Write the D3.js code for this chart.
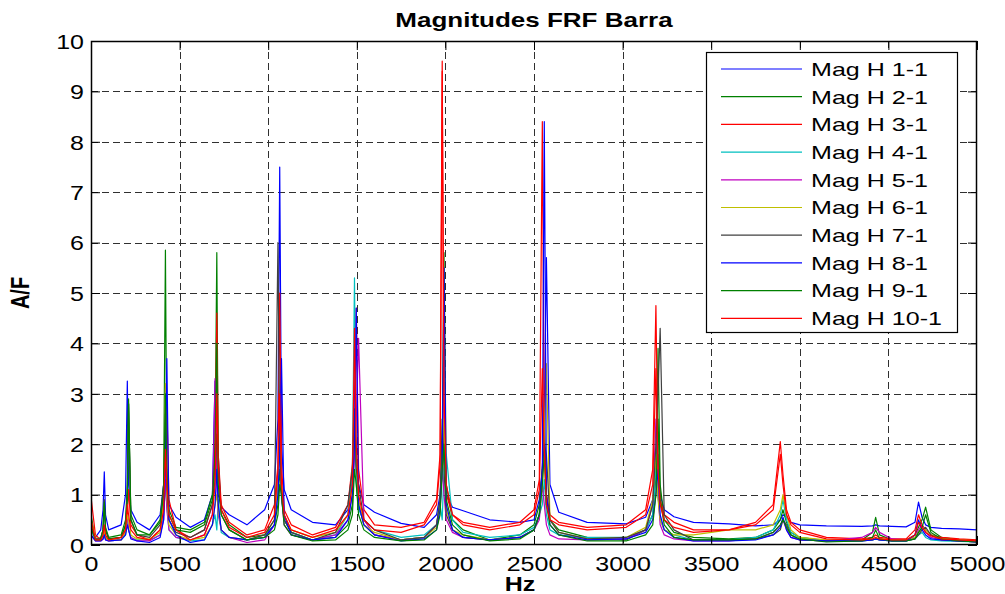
<!DOCTYPE html>
<html>
<head>
<meta charset="utf-8">
<script src="https://cdn.jsdelivr.net/npm/d3@7"></script>
<style>
  body { margin: 0; background: #fff; }
  text { font-family: "Liberation Sans", Arial, sans-serif; }
</style>
</head>
<body>
<svg id="chart" width="1005" height="594"></svg>
<script>
// frequency grid (Hz), shared by every FRF
var hz = [0, 25,
  55, 68, 75, 82, 100,
  170, 195, 205, 212, 225, 260,
  330, 390, 410, 420, 428, 440, 480,
  560, 640, 685, 700, 710, 718, 735, 780,
  880, 980, 1035, 1055, 1065, 1075, 1090, 1130,
  1250, 1380, 1450, 1475, 1487, 1497, 1510, 1540, 1600,
  1750, 1880, 1950, 1970, 1982, 1992, 2005, 2040, 2100,
  2250, 2420, 2500, 2530, 2547, 2558, 2570, 2590, 2640,
  2800, 3020, 3130, 3170, 3188, 3200, 3212, 3235, 3290,
  3400, 3600, 3750, 3850, 3890, 3905, 3925, 3950, 4000,
  4150, 4350, 4410, 4428, 4450, 4520,
  4600, 4650, 4670, 4690, 4710, 4740, 4800, 4900, 5000]

// magnitudes A/F, one array per FRF
var h1 = [0.3, 0.15,
  0.3, 0.7, 1.45, 0.6, 0.3,
  0.4, 1.0, 3.25, 1.2, 0.7, 0.45,
  0.3, 0.6, 1.2, 2.0, 1.4, 0.8, 0.55,
  0.35, 0.5, 1.0, 3.25, 1.6, 1.0, 0.75, 0.6,
  0.4, 0.7, 1.2, 2.5, 7.5, 2.0, 1.1, 0.7,
  0.45, 0.4, 0.7, 1.3, 2.0, 1.6, 1.2, 0.8, 0.65,
  0.43, 0.35, 0.6, 1.0, 1.6, 2.3, 1.0, 0.75, 0.68,
  0.5, 0.45, 0.5, 0.9, 1.5, 2.5, 5.7, 1.2, 0.65,
  0.45, 0.42, 0.55, 0.9, 1.3, 1.8, 1.0, 0.7, 0.56,
  0.45, 0.42, 0.38, 0.4, 0.5, 0.6, 0.55, 0.45, 0.4,
  0.38, 0.37, 0.38, 0.4, 0.38, 0.37,
  0.36, 0.45, 0.85, 0.55, 0.4, 0.35, 0.33, 0.32, 0.3]
var h2 = [0.6, 0.1,
  0.15, 0.3, 0.8, 0.35, 0.15,
  0.2, 0.5, 1.2, 2.9, 0.6, 0.3,
  0.2, 0.5, 1.2, 5.85, 1.5, 0.7, 0.35,
  0.3, 0.45, 1.0, 2.0, 5.8, 1.5, 0.7, 0.4,
  0.15, 0.2, 0.4, 0.8, 1.5, 1.0, 0.5, 0.25,
  0.1, 0.15, 0.4, 0.8, 2.0, 1.5, 0.8, 0.4, 0.2,
  0.1, 0.15, 0.4, 0.9, 2.0, 5.8, 1.2, 0.5, 0.3,
  0.1, 0.2, 0.4, 0.8, 1.5, 2.5, 1.0, 0.5, 0.3,
  0.15, 0.1, 0.3, 0.6, 1.5, 3.9, 1.2, 0.5, 0.25,
  0.15, 0.12, 0.15, 0.3, 0.5, 0.7, 0.45, 0.25, 0.15,
  0.08, 0.1, 0.25, 0.55, 0.2, 0.1,
  0.1, 0.2, 0.35, 0.5, 0.75, 0.3, 0.15, 0.1, 0.08]
var h3 = [0.95, 0.2,
  0.1, 0.15, 0.3, 0.15, 0.1,
  0.15, 0.3, 0.6, 1.1, 0.4, 0.2,
  0.1, 0.3, 0.8, 1.5, 2.8, 0.9, 0.3,
  0.15, 0.3, 0.8, 1.6, 4.6, 1.8, 0.8, 0.45,
  0.2, 0.3, 0.8, 1.6, 5.0, 1.6, 0.7, 0.4,
  0.2, 0.35, 0.8, 1.6, 3.0, 4.7, 1.5, 0.7, 0.4,
  0.35, 0.45, 0.9, 1.8, 9.6, 2.2, 1.0, 0.6, 0.45,
  0.35, 0.45, 0.7, 1.3, 8.4, 2.0, 1.0, 0.6, 0.45,
  0.35, 0.4, 0.7, 1.5, 4.75, 1.6, 0.9, 0.6, 0.45,
  0.3, 0.3, 0.45, 0.8, 2.05, 1.4, 0.7, 0.45, 0.3,
  0.15, 0.12, 0.15, 0.2, 0.15, 0.12,
  0.12, 0.3, 0.6, 0.4, 0.3, 0.2, 0.15, 0.12, 0.1]
var h4 = [0.3, 0.1,
  0.1, 0.15, 0.25, 0.12, 0.08,
  0.1, 0.2, 0.5, 0.3, 0.15, 0.1,
  0.1, 0.2, 0.6, 1.2, 0.8, 0.3, 0.15,
  0.08, 0.1, 0.4, 0.6, 0.3, 0.9, 0.25, 0.15,
  0.1, 0.15, 0.4, 1.2, 2.0, 0.9, 0.5, 0.25,
  0.1, 0.2, 0.6, 1.5, 5.3, 1.2, 0.7, 0.5, 0.3,
  0.15, 0.2, 0.4, 0.8, 0.5, 1.5, 1.8, 0.5, 0.25,
  0.15, 0.2, 0.35, 0.6, 0.8, 1.3, 0.6, 0.3, 0.2,
  0.15, 0.15, 0.3, 0.6, 1.5, 1.0, 0.5, 0.3, 0.2,
  0.1, 0.1, 0.15, 0.3, 0.6, 0.9, 0.5, 0.25, 0.15,
  0.08, 0.08, 0.1, 0.12, 0.1, 0.08,
  0.08, 0.12, 0.2, 0.25, 0.15, 0.1, 0.08, 0.07, 0.06]
var h5 = [0.2, 0.08,
  0.08, 0.12, 0.2, 0.1, 0.08,
  0.1, 0.25, 0.6, 0.3, 0.15, 0.08,
  0.08, 0.2, 0.5, 1.3, 0.7, 0.3, 0.15,
  0.1, 0.2, 0.6, 3.3, 1.2, 0.6, 0.3, 0.15,
  0.05, 0.1, 0.4, 1.5, 2.5, 1.0, 0.4, 0.2,
  0.1, 0.2, 0.5, 1.0, 1.8, 2.5, 4.1, 0.5, 0.2,
  0.1, 0.15, 0.4, 0.8, 1.5, 1.0, 0.5, 0.25, 0.15,
  0.1, 0.15, 0.3, 0.5, 1.2, 0.8, 0.4, 0.2, 0.12,
  0.1, 0.12, 0.3, 0.8, 2.5, 1.0, 0.4, 0.2, 0.12,
  0.08, 0.08, 0.12, 0.25, 0.4, 0.5, 0.3, 0.15, 0.1,
  0.08, 0.15, 0.25, 0.35, 0.25, 0.12,
  0.1, 0.15, 0.3, 0.4, 0.25, 0.15, 0.1, 0.08, 0.06]
var h6 = [0.5, 0.15,
  0.1, 0.15, 0.3, 0.15, 0.1,
  0.1, 0.25, 0.6, 0.5, 0.2, 0.12,
  0.12, 0.25, 0.8, 3.2, 1.0, 0.4, 0.2,
  0.1, 0.15, 0.4, 0.8, 1.0, 0.7, 0.3, 0.15,
  0.1, 0.2, 0.5, 1.2, 2.5, 1.2, 0.6, 0.3,
  0.15, 0.25, 0.6, 1.2, 2.5, 1.8, 0.9, 0.4, 0.25,
  0.1, 0.15, 0.35, 0.8, 1.5, 2.5, 0.7, 0.3, 0.2,
  0.1, 0.15, 0.3, 0.6, 1.2, 2.0, 3.6, 0.5, 0.25,
  0.12, 0.15, 0.35, 0.9, 1.8, 0.9, 0.5, 0.3, 0.2,
  0.2, 0.3, 0.3, 0.4, 0.7, 1.0, 0.6, 0.3, 0.15,
  0.1, 0.1, 0.12, 0.15, 0.12, 0.1,
  0.1, 0.15, 0.25, 0.35, 0.3, 0.2, 0.12, 0.1, 0.08]
var h7 = [0.4, 0.12,
  0.12, 0.3, 0.9, 0.3, 0.12,
  0.15, 0.4, 1.0, 2.8, 0.5, 0.2,
  0.15, 0.4, 1.2, 2.6, 1.2, 0.5, 0.25,
  0.15, 0.3, 0.8, 1.3, 2.2, 1.8, 0.6, 0.3,
  0.1, 0.2, 0.5, 6.0, 2.0, 1.0, 0.5, 0.25,
  0.1, 0.25, 0.8, 1.5, 2.7, 1.5, 1.2, 0.5, 0.3,
  0.1, 0.15, 0.4, 0.9, 2.5, 1.5, 0.6, 0.3, 0.15,
  0.1, 0.15, 0.3, 0.6, 1.5, 2.0, 1.8, 0.5, 0.25,
  0.12, 0.15, 0.3, 0.8, 2.0, 3.0, 4.3, 0.6, 0.3,
  0.1, 0.1, 0.12, 0.2, 0.3, 0.5, 0.4, 0.2, 0.1,
  0.08, 0.08, 0.1, 0.12, 0.1, 0.08,
  0.08, 0.12, 0.2, 0.3, 0.35, 0.2, 0.1, 0.08, 0.06]
var h8 = [0.2, 0.08,
  0.08, 0.12, 0.2, 0.1, 0.08,
  0.1, 0.2, 0.4, 0.3, 0.12, 0.08,
  0.05, 0.15, 0.5, 1.5, 3.7, 0.5, 0.2,
  0.05, 0.1, 0.4, 0.8, 1.5, 0.8, 0.3, 0.15,
  0.1, 0.15, 0.4, 1.0, 1.8, 3.7, 0.6, 0.2,
  0.1, 0.15, 0.5, 1.0, 2.0, 4.7, 0.8, 0.4, 0.2,
  0.08, 0.12, 0.3, 0.7, 1.5, 5.5, 0.8, 0.3, 0.15,
  0.1, 0.15, 0.3, 0.6, 1.5, 8.4, 1.0, 0.4, 0.2,
  0.1, 0.12, 0.25, 0.5, 1.0, 1.5, 0.6, 0.3, 0.15,
  0.08, 0.08, 0.1, 0.2, 0.35, 0.55, 0.3, 0.15, 0.1,
  0.08, 0.08, 0.1, 0.12, 0.1, 0.08,
  0.08, 0.2, 0.5, 0.3, 0.2, 0.12, 0.1, 0.08, 0.06]
var h9 = [0.35, 0.1,
  0.1, 0.3, 0.85, 0.3, 0.12,
  0.15, 0.4, 0.9, 2.8, 0.5, 0.2,
  0.2, 0.45, 1.0, 3.0, 1.3, 0.6, 0.3,
  0.25, 0.4, 0.9, 1.8, 4.0, 1.2, 0.6, 0.3,
  0.1, 0.15, 0.3, 0.6, 1.2, 1.0, 0.4, 0.2,
  0.08, 0.1, 0.3, 0.6, 1.5, 1.2, 0.6, 0.3, 0.15,
  0.08, 0.1, 0.3, 0.6, 1.5, 2.0, 0.9, 0.4, 0.2,
  0.08, 0.12, 0.3, 0.6, 1.2, 1.8, 0.8, 0.4, 0.2,
  0.08, 0.08, 0.2, 0.4, 1.0, 2.5, 0.9, 0.4, 0.15,
  0.1, 0.1, 0.12, 0.25, 0.4, 0.5, 0.35, 0.2, 0.12,
  0.06, 0.08, 0.15, 0.3, 0.12, 0.08,
  0.08, 0.12, 0.25, 0.35, 0.6, 0.25, 0.12, 0.08, 0.06]
var h10 = [0.5, 0.1,
  0.1, 0.2, 0.4, 0.2, 0.1,
  0.15, 0.3, 0.8, 0.6, 0.3, 0.15,
  0.1, 0.3, 0.7, 1.9, 1.2, 0.6, 0.3,
  0.1, 0.2, 0.6, 1.2, 3.0, 1.6, 0.7, 0.35,
  0.15, 0.25, 0.6, 1.5, 3.0, 1.2, 0.6, 0.3,
  0.15, 0.3, 0.6, 1.2, 4.3, 2.0, 1.0, 0.5, 0.3,
  0.25, 0.4, 0.8, 1.6, 9.4, 3.0, 1.2, 0.6, 0.4,
  0.3, 0.4, 0.6, 1.1, 3.5, 1.9, 0.8, 0.5, 0.4,
  0.3, 0.35, 0.6, 1.2, 3.5, 1.5, 0.8, 0.5, 0.35,
  0.25, 0.3, 0.4, 0.7, 1.8, 1.2, 0.6, 0.4, 0.25,
  0.12, 0.1, 0.12, 0.15, 0.12, 0.1,
  0.1, 0.2, 0.45, 0.35, 0.25, 0.18, 0.12, 0.1, 0.08]

var seriesNames = ['Mag H 1-1', 'Mag H 2-1', 'Mag H 3-1', 'Mag H 4-1', 'Mag H 5-1',
  'Mag H 6-1', 'Mag H 7-1', 'Mag H 8-1', 'Mag H 9-1', 'Mag H 10-1']
var seriesValues = [h1, h2, h3, h4, h5, h6, h7, h8, h9, h10]
// matlab default line colour order
var seriesColors = ['#0000ff', '#008000', '#ff0000', '#00bfbf', '#bf00bf',
  '#bfbf00', '#404040', '#0000ff', '#008000', '#ff0000']
var xTicks = [0, 500, 1000, 1500, 2000, 2500, 3000, 3500, 4000, 4500, 5000]
var yTicks = [0, 1, 2, 3, 4, 5, 6, 7, 8, 9, 10]

var svg = d3.select('#chart')
// plot box (can't use "top" as a global, window.top is read only)
var pLeft = 91, pRight = 977, pTop = 41, pBottom = 545
var stretch = 'scale(1.25,1)'

var x = d3.scaleLinear().domain([0, 5000]).range([pLeft, pRight])
var y = d3.scaleLinear().domain([0, 10]).range([pBottom, pTop])

// grid
var grid = svg.append('g')
  .attr('stroke', '#303030')
  .attr('stroke-width', 1)
  .attr('stroke-dasharray', '7,4')
grid.selectAll('.gx').data(xTicks.slice(1, -1)).enter().append('line')
  .attr('x1', d => Math.round(x(d)) + 0.5).attr('x2', d => Math.round(x(d)) + 0.5)
  .attr('y1', pTop).attr('y2', pBottom)
grid.selectAll('.gy').data(yTicks.slice(1, -1)).enter().append('line')
  .attr('y1', d => Math.round(y(d)) + 0.5).attr('y2', d => Math.round(y(d)) + 0.5)
  .attr('x1', pLeft).attr('x2', pRight)

// curves
svg.append('clipPath').attr('id', 'plotclip').append('rect')
  .attr('x', pLeft).attr('y', pTop).attr('width', pRight - pLeft).attr('height', pBottom - pTop)
var line = d3.line().x(d => x(d[0])).y(d => y(d[1]))
var curves = svg.append('g').attr('clip-path', 'url(#plotclip)')
seriesValues.forEach(function (vals, i) {
  if (vals.length !== hz.length) console.log('length mismatch', seriesNames[i], vals.length)
  curves.append('path')
    .datum(d3.zip(hz, vals))
    .attr('fill', 'none')
    .attr('stroke', seriesColors[i])
    .attr('stroke-width', 1.2)
    .attr('stroke-linejoin', 'round')
    .attr('d', line)
})

// axes, ticks inward like matlab
var tk = 9
var fmt = d3.format('d')
var xAxis = svg.append('g').attr('transform', 'translate(0,' + pBottom + ')')
  .call(d3.axisBottom(x).tickValues(xTicks).tickFormat(fmt).tickSizeInner(-tk).tickSizeOuter(0))
var yAxis = svg.append('g').attr('transform', 'translate(' + pLeft + ',0)')
  .call(d3.axisLeft(y).tickValues(yTicks).tickFormat(fmt).tickSizeInner(-tk).tickSizeOuter(0))
svg.append('g').attr('transform', 'translate(0,' + pTop + ')')
  .call(d3.axisTop(x).tickValues(xTicks).tickSizeInner(-tk).tickSizeOuter(0).tickFormat(''))
svg.append('g').attr('transform', 'translate(' + pRight + ',0)')
  .call(d3.axisRight(y).tickValues(yTicks).tickSizeInner(-tk).tickSizeOuter(0).tickFormat(''))
svg.selectAll('.domain').remove()
svg.selectAll('.tick line').attr('stroke', '#000')

xAxis.selectAll('text')
  .attr('font-size', 20).attr('fill', '#000')
  .attr('y', 12).attr('dy', '0.71em')
  .attr('transform', stretch)
yAxis.selectAll('text')
  .attr('font-size', 20).attr('fill', '#000')
  .attr('x', -7 / 1.25).attr('dy', '0.36em')
  .attr('transform', stretch)

svg.append('rect')
  .attr('x', pLeft + 0.5).attr('y', pTop + 0.5)
  .attr('width', pRight - pLeft - 1).attr('height', pBottom - pTop - 1)
  .attr('fill', 'none').attr('stroke', '#000').attr('stroke-width', 1.5)

// titles
svg.append('text')
  .attr('transform', 'translate(' + ((pLeft + pRight) / 2) + ',27) scale(1.3,1)')
  .attr('text-anchor', 'middle')
  .attr('font-size', 20).attr('font-weight', 'bold')
  .text('Magnitudes FRF Barra')
svg.append('text')
  .attr('transform', 'translate(520,591) ' + stretch)
  .attr('text-anchor', 'middle')
  .attr('font-size', 20).attr('font-weight', 'bold')
  .text('Hz')
svg.append('text')
  .attr('transform', 'translate(29,' + ((pTop + pBottom) / 2) + ') rotate(-90) scale(1,1.25)')
  .attr('text-anchor', 'middle')
  .attr('font-size', 20).attr('font-weight', 'bold')
  .text('A/F')

// legend
var lg = svg.append('g').attr('transform', 'translate(706,52)')
lg.append('rect')
  .attr('x', 0.5).attr('y', 0.5).attr('width', 251).attr('height', 280)
  .attr('fill', '#fff').attr('stroke', '#000').attr('stroke-width', 1.2)
var rows = lg.selectAll('.row').data(seriesNames).enter().append('g')
  .attr('transform', (d, i) => 'translate(0,' + (17 + i * 27.7) + ')')
rows.append('line')
  .attr('x1', 15).attr('x2', 96)
  .attr('stroke', (d, i) => seriesColors[i]).attr('stroke-width', 1.2)
rows.append('text')
  .attr('transform', 'translate(105,0) scale(1.32,1)')
  .attr('dy', '0.36em')
  .attr('font-size', 19)
  .text(d => d)
</script>
</body>
</html>
